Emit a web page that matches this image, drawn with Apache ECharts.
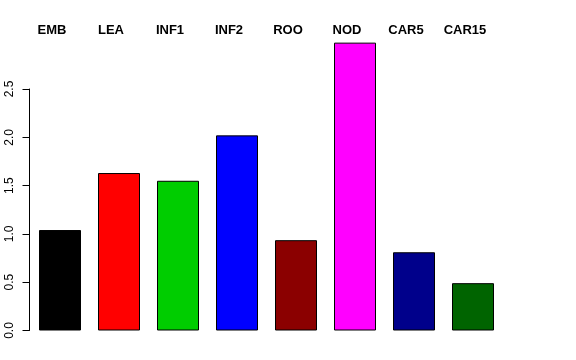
<!DOCTYPE html>
<html>
<head>
<meta charset="utf-8">
<script src="https://cdn.jsdelivr.net/npm/echarts@6/dist/echarts.min.js"></script>
<style>
html,body{margin:0;padding:0;background:#fff;}
#chart{width:576px;height:360px;}
</style>
</head>
<body>
<div id="chart"></div>
<script>
var categories = ["EMB","LEA","INF1","INF2","ROO","NOD","CAR5","CAR15"];
var values = [1.04, 1.63, 1.55, 2.02, 0.935, 2.98, 0.81, 0.49];
var colors = ["#000000","#FF0000","#00CD00","#0000FF","#8B0000","#FF00FF","#00008B","#006400"];
var yTicks = [0, 0.5, 1.0, 1.5, 2.0, 2.5];

var chart = echarts.init(document.getElementById('chart'), null, {renderer:'canvas'});
chart.setOption({
  animation: false,
  backgroundColor: '#ffffff',
  textStyle: {fontFamily: 'Liberation Sans, Arial, sans-serif'},
  grid: {left: 30.5, top: 89, width: 472, bottom: 29.5, containLabel: false},
  xAxis: {
    type: 'category',
    position: 'top',
    data: categories,
    axisLine: {show: false},
    axisTick: {show: false},
    axisLabel: {
      margin: 52,
      fontSize: 13,
      fontWeight: 'bold',
      color: '#000',
      padding: [0, 16, 0, 0],
      interval: 0
    },
    splitLine: {show: false}
  },
  yAxis: {
    type: 'value',
    min: 0,
    max: 2.5,
    interval: 0.5,
    offset: 1,
    axisLine: {show: true, lineStyle: {color: '#000', width: 1}},
    axisTick: {show: true, length: 7, lineStyle: {color: '#000'}},
    axisLabel: {
      rotate: 90,
      margin: 14,
      fontSize: 12,
      color: '#000',
      formatter: function (v) { return v.toFixed(1); }
    },
    splitLine: {show: false}
  },
  series: [{
    type: 'bar',
    clip: false,
    barWidth: 42,
    data: values.map(function (v, i) {
      return {value: v, itemStyle: {color: colors[i], borderColor: '#000', borderWidth: 1}};
    })
  }]
});
</script>
</body>
</html>
